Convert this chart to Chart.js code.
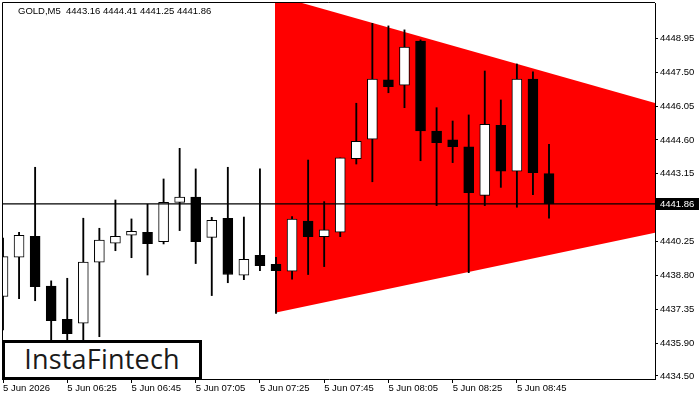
<!DOCTYPE html>
<html>
<head>
<meta charset="utf-8">
<title>GOLD,M5</title>
<script src="https://cdn.jsdelivr.net/npm/chart.js@4.4.1/dist/chart.umd.min.js"></script>
<style>
  body { margin: 0; background: #fff; }
  .wrap { position: relative; width: 700px; height: 400px; overflow: hidden; }
  .chart-title { position: absolute; left: 18px; top: 5px; font: 9.5px 'Liberation Sans', Arial, sans-serif; color: #000; white-space: pre; }
  .logo { position: absolute; left: 2px; top: 340px; width: 200px; height: 40px; box-sizing: border-box;
          border: 3px solid #000; background: #fff; color: #1a1a1a; text-align: center;
          font: 500 27px 'Open Sans', sans-serif; line-height: 32px; letter-spacing: 0.2px; }
</style>
</head>
<body>
<div class="wrap">
  <canvas id="goldChart" width="700" height="400"></canvas>
  <div id="chartTitle" class="chart-title"></div>
  <div class="logo">InstaFintech</div>
</div>
<script>
// --- 1. Data (one candle every 5 minutes, index 0 = 06:05) ---
const symbolName = 'GOLD,M5';

const opens = [4437.90, 4439.58, 4440.48, 4438.35, 4436.92, 4436.76, 4439.37, 4440.18, 4440.52, 4440.65,
               4440.25, 4441.93, 4442.15, 4440.43, 4441.25, 4438.81, 4439.66, 4439.28, 4438.98, 4441.13,
               4440.46, 4440.65, 4443.80, 4444.63, 4447.17, 4446.94, 4448.83, 4444.98, 4444.60, 4444.30,
               4442.23, 4445.23, 4443.26, 4447.20, 4443.16];
const highs = [4440.40, 4440.65, 4443.43, 4438.57, 4438.68, 4441.25, 4440.82, 4442.03, 4441.22, 4441.85,
               4442.93, 4444.24, 4443.36, 4441.29, 4443.43, 4441.30, 4443.36, 4439.58, 4441.32, 4443.74,
               4441.96, 4443.83, 4446.17, 4449.59, 4449.48, 4449.31, 4448.88, 4445.98, 4445.41, 4445.67,
               4447.55, 4446.31, 4447.85, 4447.51, 4444.41];
const lows = [4436.47, 4437.81, 4437.72, 4435.30, 4435.40, 4435.60, 4436.18, 4439.86, 4439.56, 4438.82,
              4440.15, 4440.72, 4439.31, 4437.94, 4438.49, 4438.62, 4439.01, 4437.18, 4438.64, 4438.84,
              4439.18, 4440.46, 4443.57, 4442.81, 4446.62, 4445.98, 4443.71, 4441.79, 4443.63, 4438.92,
              4441.79, 4442.57, 4441.72, 4442.26, 4441.25];
const closes = [4439.61, 4440.52, 4438.32, 4436.87, 4436.31, 4439.37, 4440.31, 4440.48, 4440.69, 4440.16,
                4441.93, 4442.15, 4440.25, 4441.16, 4438.84, 4439.49, 4439.22, 4439.01, 4441.21, 4440.46,
                4440.75, 4443.83, 4444.54, 4447.20, 4446.88, 4448.57, 4444.99, 4444.48, 4444.31, 4442.34,
                4445.27, 4443.26, 4447.20, 4443.20, 4441.86];

// time axis labels, every 4th candle
const timeTickIndex = [0, 4, 8, 12, 16, 20, 24, 28, 32];
const timeTickLabels = ['5 Jun 2026', '5 Jun 06:25', '5 Jun 06:45', '5 Jun 07:05', '5 Jun 07:25',
                        '5 Jun 07:45', '5 Jun 08:05', '5 Jun 08:25', '5 Jun 08:45'];

// price axis labels
const priceTicks = [4448.95, 4447.50, 4446.05, 4444.60, 4443.15, 4441.70, 4440.25, 4438.80, 4437.35, 4435.90, 4434.50];

// symmetrical triangle pattern (x in candle index)
const patternX = [16.93, 40.6];
const patternUpper = [4450.79, 4446.18];
const patternLower = [4437.20, 4440.63];

// visible window
const xMin = 0, xMax = 40.6;
const yMin = 4434.37, yMax = 4450.46;

// --- 2. Build datasets ---
const last = closes.length - 1;
const lastPrice = closes[last];

const wickData = highs.map((h, i) => ({ x: i, y: [lows[i], h] }));
const bodyData = opens.map((o, i) => ({ x: i, y: [o, closes[i]] }));

document.getElementById('chartTitle').textContent =
  `${symbolName}  ${opens[last].toFixed(2)} ${highs[last].toFixed(2)} ${lows[last].toFixed(2)} ${closes[last].toFixed(2)}`;

const tickFont = { family: "'Liberation Sans', Arial, sans-serif", size: 9.5 };

// frame lines + price box on the right axis
const chartExtras = {
  id: 'chartExtras',
  afterDraw(chart) {
    const { ctx, chartArea } = chart;
    const y = Math.round(chart.scales.y.getPixelForValue(lastPrice));
    ctx.save();
    ctx.strokeStyle = '#000';
    ctx.lineWidth = 1;
    ctx.beginPath();
    ctx.moveTo(chartArea.left - 0.5, chartArea.bottom);
    ctx.lineTo(chartArea.left - 0.5, chartArea.top - 0.5);
    ctx.lineTo(chartArea.right, chartArea.top - 0.5);
    ctx.stroke();

    ctx.fillStyle = '#000';
    ctx.fillRect(chartArea.right + 1, y - 6, 700 - chartArea.right - 2, 12);
    ctx.fillStyle = '#fff';
    ctx.font = "9.5px 'Liberation Sans', Arial, sans-serif";
    ctx.textBaseline = 'middle';
    ctx.fillText(lastPrice.toFixed(2), chartArea.right + 5, y);
    ctx.restore();
  }
};

// --- 3. Chart ---
new Chart(document.getElementById('goldChart'), {
  type: 'bar',
  data: {
    datasets: [
      {
        type: 'line',
        data: [{ x: xMin, y: lastPrice }, { x: xMax, y: lastPrice }],
        borderColor: '#000',
        borderWidth: 1.2,
        pointRadius: 0,
        order: 0
      },
      {
        data: bodyData,
        backgroundColor: ctx => closes[ctx.dataIndex] > opens[ctx.dataIndex] ? '#ffffff' : '#000000',
        borderColor: '#000',
        borderWidth: 1,
        borderSkipped: false,
        barThickness: 10,
        grouped: false,
        order: 1
      },
      {
        data: wickData,
        backgroundColor: '#000',
        barThickness: 1.2,
        grouped: false,
        order: 2
      },
      {
        type: 'line',
        data: patternX.map((x, k) => ({ x, y: patternUpper[k] })),
        borderWidth: 0,
        borderColor: 'rgba(0,0,0,0)',
        pointRadius: 0,
        fill: false,
        order: 3
      },
      {
        type: 'line',
        data: patternX.map((x, k) => ({ x, y: patternLower[k] })),
        borderWidth: 0,
        borderColor: 'rgba(0,0,0,0)',
        backgroundColor: '#ff0000',
        pointRadius: 0,
        fill: '-1',
        order: 4
      }
    ]
  },
  options: {
    responsive: false,
    animation: false,
    devicePixelRatio: 1,
    layout: { padding: { left: 3, top: 3, right: 0, bottom: 0 } },
    plugins: { legend: { display: false }, tooltip: { enabled: false } },
    scales: {
      x: {
        type: 'linear',
        min: xMin,
        max: xMax,
        offset: false,
        grid: { drawOnChartArea: false, drawTicks: true, tickLength: 4, color: '#000', offset: false },
        border: { display: true, color: '#000', width: 1 },
        afterBuildTicks: s => { s.ticks = timeTickIndex.map(v => ({ value: v })); },
        afterFit: s => { s.height = 21; s.paddingLeft = 0; s.paddingRight = 0; },
        ticks: {
          autoSkip: false,
          maxRotation: 0,
          align: 'start',
          padding: 0,
          color: '#000',
          font: tickFont,
          callback: (v, i) => timeTickLabels[i]
        }
      },
      y: {
        position: 'right',
        min: yMin,
        max: yMax,
        grid: { drawOnChartArea: false, drawTicks: true, tickLength: 3, color: '#000' },
        border: { display: true, color: '#000', width: 1 },
        afterBuildTicks: s => { s.ticks = priceTicks.map(v => ({ value: v })); },
        afterFit: s => { s.width = 45; s.paddingTop = 0; s.paddingBottom = 0; },
        ticks: {
          padding: 2,
          color: '#000',
          font: tickFont,
          callback: v => v.toFixed(2)
        }
      }
    }
  },
  plugins: [chartExtras]
});
</script>
</body>
</html>
